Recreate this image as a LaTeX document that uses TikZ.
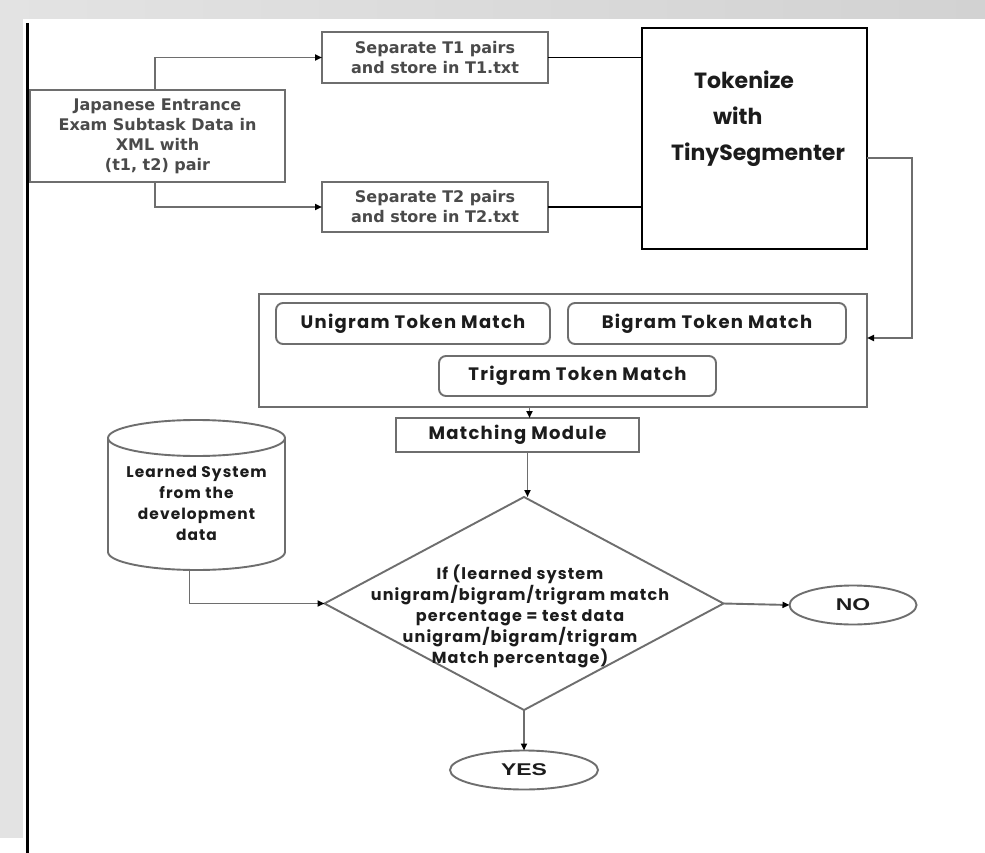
\documentclass[tikz,border=0pt]{standalone}
\usepackage{fontspec}
\setmainfont{DejaVu Sans}
\newfontfamily\handf{Poppins}[LetterSpace=7]
\newfontfamily\headf{Poppins}
\newfontfamily\plainf{DejaVu Sans}
\newfontfamily\arf{Liberation Sans}[FakeStretch=1.35]
\usetikzlibrary{arrows.meta,shapes.geometric,calc}
\definecolor{edge}{HTML}{6E6E6E}
\definecolor{pane}{HTML}{E3E3E3}
\definecolor{paneR}{HTML}{D2D2D2}
\definecolor{ink}{HTML}{1C1C1C}
\definecolor{greyink}{HTML}{4A4A4A}
\begin{document}
\begin{tikzpicture}[x=1pt,y=1pt,
  every node/.style={inner sep=0pt, outer sep=0pt},
  edgebox/.style={draw=edge, line width=1.9pt, fill=white, align=center},
  roundbox/.style={edgebox, rounded corners=7pt},
  plaintext/.style={font=\plainf\bfseries\fontsize{16}{20}\selectfont, text=greyink},
  handtext/.style={font=\handf\bfseries\fontsize{16}{21}\selectfont, text=ink},
  boxtext/.style={font=\handf\bfseries\fontsize{18}{20}\selectfont, text=ink},
  link/.style={draw=edge, line width=1.9pt},
  thinlink/.style={draw=black, line width=1.5pt},
  arr/.style={link, -{Triangle[length=7pt,width=6pt,color=black]}},
  endcap/.style={ellipse, draw=edge, line width=1.9pt, fill=white,
    font=\arf\bfseries\fontsize{17}{18}\selectfont, text=ink}
]
% page, grey frame and left rule
\useasboundingbox (0,0) rectangle (985,-853);
\fill[white] (0,0) rectangle (985,-853);
\shade[left color=pane, right color=paneR] (0,0) rectangle (985,-19);
\fill[pane] (0,-19) rectangle (23,-838);
\draw[black, line width=3pt] (27,-23) -- (27,-853);

% input data and the two split files
\node[edgebox, plaintext, minimum width=255, minimum height=92] (jap) at (157.5,-136)
  {Japanese Entrance\\Exam Subtask Data in\\XML with\\(t1, t2) pair};
\node[edgebox, plaintext, minimum width=226, minimum height=51] (t1) at (435,-57.5)
  {Separate T1 pairs\\and store in T1.txt};
\node[edgebox, plaintext, minimum width=226, minimum height=50] (t2) at (435,-207)
  {Separate T2 pairs\\and store in T2.txt};

% tokenizer
\node[draw=black, line width=1.8pt, fill=white, minimum width=225, minimum height=221] (tok) at (754.5,-138.5) {};
\node[font=\headf\bfseries\fontsize{22}{36}\selectfont, text=ink, align=left] (toktext) at (758,-119)
  {\hspace*{23pt}Tokenize\\\hspace*{42pt}with\\TinySegmenter};

% n-gram matching block
\node[edgebox, minimum width=608, minimum height=113] (cont) at (563,-350.5) {};
\node[roundbox, boxtext, minimum width=274, minimum height=41] (uni) at (413,-323.5) {Unigram Token Match};
\node[roundbox, boxtext, minimum width=278, minimum height=41] (bi) at (707,-323.5) {Bigram Token Match};
\node[roundbox, boxtext, minimum width=277, minimum height=40] (tri) at (577.5,-376) {Trigram Token Match};
\node[edgebox, boxtext, minimum width=243, minimum height=34] (mm) at (517.5,-435) {Matching Module};

% learned system store
\draw[edge, line width=1.9pt, fill=white]
  (108,-438) -- (108,-552) arc[start angle=180, end angle=360, x radius=88.5pt, y radius=18pt]
  -- (285,-438);
\draw[edge, line width=1.9pt, fill=white] (196.5,-438) ellipse[x radius=88.5pt, y radius=18pt];
\node[minimum width=177, minimum height=150] (cyl) at (196.5,-495) {};
\node[handtext, font=\handf\bfseries\fontsize{15.4}{21}\selectfont, align=center] (cyltext) at (196.5,-503)
  {Learned System\\from the\\development\\data};

% decision
\node[diamond, draw=edge, line width=1.9pt, fill=white, minimum width=399, minimum height=213] (dec) at (524,-603.5) {};
\node[handtext, align=center] (dectext) at (520,-616.5)
  {If (learned system\\unigram/bigram/trigram match\\percentage = test data\\unigram/bigram/trigram\\Match percentage)};

\node[endcap, minimum width=127, minimum height=39] (no) at (853,-605) {NO};
\node[endcap, minimum width=148, minimum height=39] (yes) at (524,-770) {YES};

% connectors
\draw[arr] ([xshift=-2.5]jap.north) |- (t1.west);
\draw[arr] ([xshift=-2.5]jap.south) |- (t2.west);
\draw[thinlink] (t1.east) -- (t1.east -| tok.west);
\draw[thinlink] (t2.east) -- (t2.east -| tok.west);
\coordinate (bend) at (912,-158);
\draw[link, line width=2.6pt, -{Triangle[length=7pt,width=6pt,color=black]}]
  (tok.east |- bend) -- (bend) |- ([yshift=12.5]cont.east);
\path (mm.north) ++(12,0) coordinate (mmtop);
\draw[arr] (mmtop |- cont.south) -- (mmtop);
\path (mm.south) ++(10,0) coordinate (mmbot);
\draw[arr] (mmbot) -- (mmbot |- dec.north);
\path (cyl.south) ++(-7,0) coordinate (cylout);
\draw[arr] (cylout) |- (dec.west);
\draw[arr] (dec.east) -- (no.west);
\draw[arr] (dec.south) -- (yes.north);
\end{tikzpicture}
\end{document}
